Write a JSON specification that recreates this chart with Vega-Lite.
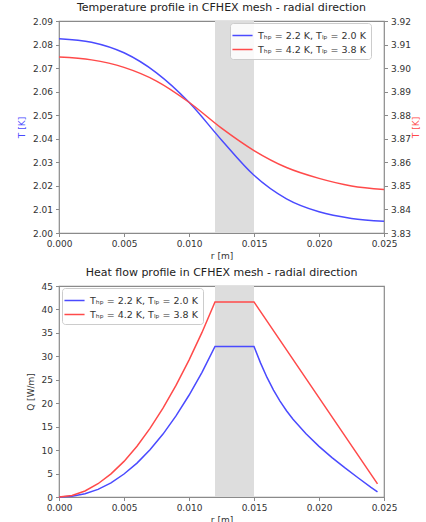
{
  "$schema": "https://vega.github.io/schema/vega-lite/v6.json",
  "padding": {"left": 16, "top": 1, "right": 0, "bottom": 0},
  "config": {
    "font": "DejaVu Sans",
    "view": {"stroke": "#8a8a8a", "strokeWidth": 1.2},
    "axis": {"domain": false, "grid": false, "tickColor": "#8a8a8a", "tickSize": 3.5, "tickWidth": 1, "labelFontSize": 9, "labelColor": "#333333", "titleFontSize": 9, "titleFontWeight": "normal", "titleColor": "#333333", "labelPadding": 3, "labelFlush": false, "labelOverlap": false},
    "title": {"fontSize": 11, "fontWeight": "normal", "color": "#222222", "offset": 4},
    "legend": {"symbolType": "M-1.5,0H1.5", "symbolStrokeWidth": 1.5, "symbolSize": 180, "labelFontSize": 9.5, "labelColor": "#333333", "padding": 5, "strokeColor": "#cccccc", "fillColor": "rgba(255,255,255,0.85)", "cornerRadius": 3, "rowPadding": 2, "labelOffset": 8},
    "concat": {"spacing": 4}
  },
  "datasets": {
    "temp": [
      {"r": 0.000, "T": 2.0825, "c": "a"},
      {"r": 0.0025, "T": 2.0810, "c": "a"},
      {"r": 0.005, "T": 2.0765, "c": "a"},
      {"r": 0.0075, "T": 2.0680, "c": "a"},
      {"r": 0.010, "T": 2.0555, "c": "a"},
      {"r": 0.0125, "T": 2.0395, "c": "a"},
      {"r": 0.015, "T": 2.0245, "c": "a"},
      {"r": 0.0175, "T": 2.0145, "c": "a"},
      {"r": 0.020, "T": 2.0090, "c": "a"},
      {"r": 0.0225, "T": 2.0062, "c": "a"},
      {"r": 0.025, "T": 2.0050, "c": "a"},
      {"r": 0.000, "T": 3.9047, "c": "b"},
      {"r": 0.0025, "T": 3.9035, "c": "b"},
      {"r": 0.005, "T": 3.9003, "c": "b"},
      {"r": 0.0075, "T": 3.8945, "c": "b"},
      {"r": 0.010, "T": 3.8855, "c": "b"},
      {"r": 0.0125, "T": 3.8745, "c": "b"},
      {"r": 0.015, "T": 3.8650, "c": "b"},
      {"r": 0.0175, "T": 3.8578, "c": "b"},
      {"r": 0.020, "T": 3.8532, "c": "b"},
      {"r": 0.0225, "T": 3.8500, "c": "b"},
      {"r": 0.025, "T": 3.8485, "c": "b"}
    ],
    "heat": [
      {"r": 0.000, "Q": 0.0, "c": "a"},
      {"r": 0.001, "Q": 0.15, "c": "a"},
      {"r": 0.002, "Q": 0.68, "c": "a"},
      {"r": 0.003, "Q": 1.63, "c": "a"},
      {"r": 0.004, "Q": 3.02, "c": "a"},
      {"r": 0.005, "Q": 4.9, "c": "a"},
      {"r": 0.006, "Q": 7.23, "c": "a"},
      {"r": 0.007, "Q": 10.07, "c": "a"},
      {"r": 0.008, "Q": 13.42, "c": "a"},
      {"r": 0.009, "Q": 17.29, "c": "a"},
      {"r": 0.010, "Q": 21.7, "c": "a"},
      {"r": 0.011, "Q": 26.6, "c": "a"},
      {"r": 0.012, "Q": 32.1, "c": "a"},
      {"r": 0.015, "Q": 32.1, "c": "a"},
      {"r": 0.0155, "Q": 28.6, "c": "a"},
      {"r": 0.016, "Q": 25.5, "c": "a"},
      {"r": 0.0165, "Q": 22.8, "c": "a"},
      {"r": 0.017, "Q": 20.45, "c": "a"},
      {"r": 0.0175, "Q": 18.4, "c": "a"},
      {"r": 0.018, "Q": 16.6, "c": "a"},
      {"r": 0.019, "Q": 13.5, "c": "a"},
      {"r": 0.020, "Q": 10.8, "c": "a"},
      {"r": 0.021, "Q": 8.4, "c": "a"},
      {"r": 0.022, "Q": 6.2, "c": "a"},
      {"r": 0.023, "Q": 4.1, "c": "a"},
      {"r": 0.024, "Q": 2.05, "c": "a"},
      {"r": 0.0245, "Q": 1.1, "c": "a"},
      {"r": 0.000, "Q": 0.0, "c": "b"},
      {"r": 0.001, "Q": 0.34, "c": "b"},
      {"r": 0.002, "Q": 1.29, "c": "b"},
      {"r": 0.003, "Q": 2.83, "c": "b"},
      {"r": 0.004, "Q": 4.94, "c": "b"},
      {"r": 0.005, "Q": 7.6, "c": "b"},
      {"r": 0.006, "Q": 10.84, "c": "b"},
      {"r": 0.007, "Q": 14.62, "c": "b"},
      {"r": 0.008, "Q": 18.95, "c": "b"},
      {"r": 0.009, "Q": 23.8, "c": "b"},
      {"r": 0.010, "Q": 29.2, "c": "b"},
      {"r": 0.011, "Q": 35.1, "c": "b"},
      {"r": 0.012, "Q": 41.6, "c": "b"},
      {"r": 0.015, "Q": 41.6, "c": "b"},
      {"r": 0.0245, "Q": 2.8, "c": "b"}
    ],
    "band": [{"r0": 0.012, "r1": 0.015}]
  },
  "vconcat": [
    {
      "title": "Temperature profile in CFHEX mesh - radial direction",
      "width": 325,
      "height": 212,
      "layer": [
        {
          "data": {"name": "band"},
          "mark": {"type": "rect", "color": "#dddddd"},
          "encoding": {
            "x": {"field": "r0", "type": "quantitative", "scale": {"domain": [0, 0.025], "nice": false}, "axis": {"values": [0, 0.005, 0.01, 0.015, 0.02, 0.025], "format": ".3f", "title": "r [m]", "titlePadding": 3}},
            "x2": {"field": "r1"}
          }
        },
        {
          "data": {"name": "temp"},
          "transform": [{"filter": "datum.c == 'a'"}],
          "mark": {"type": "line", "interpolate": "monotone", "strokeWidth": 1.5},
          "encoding": {
            "x": {"field": "r", "type": "quantitative", "scale": {"domain": [0, 0.025], "nice": false}, "axis": {"values": [0, 0.005, 0.01, 0.015, 0.02, 0.025], "format": ".3f", "title": "r [m]", "titlePadding": 3}},
            "y": {"field": "T", "type": "quantitative", "scale": {"domain": [2.0, 2.09], "nice": false, "zero": false}, "axis": {"values": [2.0, 2.01, 2.02, 2.03, 2.04, 2.05, 2.06, 2.07, 2.08, 2.09], "format": ".2f", "title": "T [K]", "titleColor": "#4a4aff", "titlePadding": 6}},
            "color": {"field": "c", "type": "nominal", "scale": {"domain": ["a", "b"], "range": ["#4a4aff", "#ff4a4a"]}, "legend": {"orient": "none", "legendX": 171, "legendY": 2, "title": null, "labelExpr": "datum.value == 'a' ? 'Tₕₚ = 2.2 K, Tₗₚ = 2.0 K' : 'Tₕₚ = 4.2 K, Tₗₚ = 3.8 K'"}}
          }
        },
        {
          "data": {"name": "temp"},
          "transform": [{"filter": "datum.c == 'b'"}],
          "mark": {"type": "line", "interpolate": "monotone", "strokeWidth": 1.5},
          "encoding": {
            "x": {"field": "r", "type": "quantitative", "scale": {"domain": [0, 0.025], "nice": false}, "axis": {"values": [0, 0.005, 0.01, 0.015, 0.02, 0.025], "format": ".3f", "title": "r [m]", "titlePadding": 3}},
            "y": {"field": "T", "type": "quantitative", "scale": {"domain": [3.83, 3.92], "nice": false, "zero": false}, "axis": {"orient": "right", "values": [3.83, 3.84, 3.85, 3.86, 3.87, 3.88, 3.89, 3.9, 3.91, 3.92], "format": ".2f", "title": "T [K]", "titleColor": "#ff4a4a", "titleAngle": 270, "titlePadding": 10}},
            "color": {"field": "c", "type": "nominal", "scale": {"domain": ["a", "b"], "range": ["#4a4aff", "#ff4a4a"]}, "legend": {"orient": "none", "legendX": 171, "legendY": 2, "title": null, "labelExpr": "datum.value == 'a' ? 'Tₕₚ = 2.2 K, Tₗₚ = 2.0 K' : 'Tₕₚ = 4.2 K, Tₗₚ = 3.8 K'"}}
          }
        }
      ],
      "resolve": {"scale": {"y": "independent"}}
    },
    {
      "title": "Heat flow profile in CFHEX mesh - radial direction",
      "width": 325,
      "height": 211,
      "layer": [
        {
          "data": {"name": "band"},
          "mark": {"type": "rect", "color": "#dddddd"},
          "encoding": {
            "x": {"field": "r0", "type": "quantitative", "scale": {"domain": [0, 0.025], "nice": false}, "axis": {"values": [0, 0.005, 0.01, 0.015, 0.02, 0.025], "format": ".3f", "title": "r [m]", "titlePadding": 3}},
            "x2": {"field": "r1"}
          }
        },
        {
          "data": {"name": "heat"},
          "mark": {"type": "line", "strokeWidth": 1.5},
          "encoding": {
            "x": {"field": "r", "type": "quantitative", "scale": {"domain": [0, 0.025], "nice": false}, "axis": {"values": [0, 0.005, 0.01, 0.015, 0.02, 0.025], "format": ".3f", "title": "r [m]", "titlePadding": 3}},
            "y": {"field": "Q", "type": "quantitative", "scale": {"domain": [0, 45], "nice": false}, "axis": {"values": [0, 5, 10, 15, 20, 25, 30, 35, 40, 45], "title": "Q [W/m]", "titlePadding": 6}},
            "color": {"field": "c", "type": "nominal", "scale": {"domain": ["a", "b"], "range": ["#4a4aff", "#ff4a4a"]}, "legend": {"orient": "none", "legendX": 3, "legendY": 2, "title": null, "labelExpr": "datum.value == 'a' ? 'Tₕₚ = 2.2 K, Tₗₚ = 2.0 K' : 'Tₕₚ = 4.2 K, Tₗₚ = 3.8 K'"}}
          }
        }
      ]
    }
  ],
  "resolve": {"scale": {"color": "independent"}, "legend": {"color": "independent"}}
}
